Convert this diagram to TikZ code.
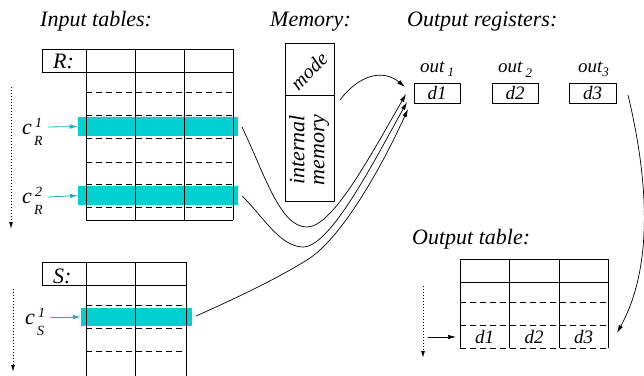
\documentclass[tikz,border=0pt]{standalone}
\usepackage{fontspec}
\setmainfont{Liberation Serif}
\usetikzlibrary{arrows.meta}
\definecolor{barcyan}{RGB}{0,208,208}
\definecolor{arrcyan}{RGB}{30,175,185}
\newcommand{\tfont}{\fontsize{22}{22}\selectfont\itshape}
\newcommand{\dfont}{\fontsize{19}{19}\selectfont\itshape}
\newcommand{\sfontx}{\fontsize{14}{14}\selectfont\itshape}
\begin{document}
\begin{tikzpicture}[x=1pt,y=-1pt,
  gridline/.style={line width=0.7pt, draw=black},
  dashline/.style={line width=0.7pt, dash pattern=on 6pt off 4pt},
  bar/.style={fill=barcyan, draw=none, inner sep=0pt},
  regbox/.style={draw, line width=0.7pt, minimum width=46pt, minimum height=20pt, inner sep=0pt, font=\dfont},
  title/.style={anchor=base west, inner sep=0pt, font=\tfont},
  cmain/.style={anchor=base west, inner sep=0pt, font=\tfont},
  cscript/.style={anchor=base west, inner sep=0pt, font=\sfontx},
  conn/.style={line width=0.7pt, -{Latex[length=8pt,width=4.5pt]}},
  cyanarrow/.style={line width=0.8pt, draw=arrcyan, -{Latex[length=8pt,width=4.5pt]}, arrcyan},
  dotarrow/.style={line width=1pt, draw=black!45, dotted, -{Latex[length=7pt,width=4pt]}, black}]
\useasboundingbox (0,0) rectangle (644,375);

% titles
\node[title] (tin) at (40,26) {Input tables:};
\node[title] (tmem) at (270,26) {Memory:};
\node[title] (treg) at (407,26) {Output registers:};
\node[title] (tout) at (412,244) {Output table:};

% ---------- table R ----------
\node[bar, minimum width=160pt, minimum height=19pt] (cr1) at (158,126.5) {};
\node[bar, minimum width=160pt, minimum height=19pt] (cr2) at (158,195.5) {};
\draw[gridline] (42,49) rectangle (86,72);
\node[anchor=base west, inner sep=0pt, font=\tfont] (rlab) at (53,68) {R:};
\draw[gridline] (86,49) -- (233,49) (86,72) -- (233,72) (86,220) -- (233,220);
\foreach \x in {86,135,184,233} \draw[gridline] (\x,49) -- (\x,220);
\foreach \y in {92,115,138,162,184,207} \draw[dashline] (86,\y) -- (233,\y);

% ---------- table S ----------
\node[bar, minimum width=111pt, minimum height=18pt] (cs1) at (136.5,317) {};
\draw[gridline] (42,262) rectangle (86,285);
\node[anchor=base west, inner sep=0pt, font=\tfont] (slab) at (53,283) {S:};
\draw[gridline] (86,262) -- (186,262) (86,285) -- (186,285);
\foreach \x in {86,135,186} \draw[gridline] (\x,262) -- (\x,376);
\foreach \y in {305,328,351} \draw[dashline] (86,\y) -- (186,\y);

% cursor labels and arrows
\node[cmain] (lr1c) at (22,134) {c};
\node[cscript] (lr1p) at (35,127) {1};
\node[cscript] (lr1b) at (34,145) {R};
\node[cmain] (lr2c) at (22,203) {c};
\node[cscript] (lr2p) at (35,196) {2};
\node[cscript] (lr2b) at (34,214) {R};
\node[cmain] (ls1c) at (25,324) {c};
\node[cscript] (ls1p) at (38,317) {1};
\node[cscript] (ls1b) at (37,335) {S};
\coordinate (ar1) at (48,127);
\coordinate (ar2) at (48,197);
\coordinate (as1) at (51,317);
\draw[cyanarrow] (ar1) -- (cr1.west);
\draw[cyanarrow] (ar2) -- (cr2.west);
\draw[cyanarrow] (as1) -- (cs1.west);

% dotted scan arrows
\coordinate (rt) at (11,87); \coordinate (rb) at (11,229);
\coordinate (st) at (13,289); \coordinate (sb) at (13,372);
\coordinate (ot) at (423,286); \coordinate (ob) at (423,358);
\draw[dotarrow] (rt) -- (rb);
\draw[dotarrow] (st) -- (sb);
\draw[dotarrow] (ot) -- (ob);

% ---------- memory ----------
\node[draw, line width=0.7pt, minimum width=49pt, minimum height=52pt, inner sep=0pt] (mode) at (309.5,69) {};
\node[draw, line width=0.7pt, minimum width=49pt, minimum height=106pt, inner sep=0pt] (mem) at (309.5,148) {};
\node[font=\fontsize{20}{20}\selectfont\itshape, rotate=45, inner sep=0pt] (modetxt) at (309,71) {mode};
\node[font=\tfont, rotate=90, inner sep=0pt, align=center] (memtxt) at (309,150) {internal\\[-2pt]memory};

% ---------- output registers ----------
\node[regbox] (d1) at (437,93) {d1};
\node[regbox] (d2) at (515,93) {d2};
\node[regbox, minimum width=47pt] (d3) at (592.5,93) {d3};
\node[anchor=base west, inner sep=0pt, font=\dfont] (o1) at (420,72) {out\,\raisebox{-4pt}{\fontsize{13}{13}\selectfont 1}};
\node[anchor=base west, inner sep=0pt, font=\dfont] (o2) at (498,72) {out\,\raisebox{-5pt}{\fontsize{13}{13}\selectfont 2}};
\node[anchor=base west, inner sep=0pt, font=\dfont] (o3) at (578,72) {out\raisebox{-4pt}{\fontsize{13}{13}\selectfont 3}};

% ---------- output table ----------
\draw[gridline] (460,259) -- (608,259) (460,282) -- (608,282);
\foreach \x in {460,509,559,608} \draw[gridline] (\x,259) -- (\x,348);
\foreach \y in {302,325,348} \draw[dashline] (460,\y) -- (608,\y);
\node[font=\dfont, inner sep=0pt] (od1) at (484.5,337) {d1};
\node[font=\dfont, inner sep=0pt] (od2) at (534,337) {d2};
\node[font=\dfont, inner sep=0pt] (od3) at (583.5,337) {d3};
\coordinate (oa) at (428,337);
\coordinate (ob2) at (456,337);
\draw[conn] (oa) -- (ob2);

% ---------- connectors ----------
\coordinate (m1) at (340,100);
\coordinate (e1) at (405,87);
\coordinate (s2) at (242,127);
\coordinate (b2) at (307,227);
\coordinate (e2) at (406,94);
\coordinate (s3) at (242,196);
\coordinate (b3) at (303,247);
\coordinate (e3) at (407,102);
\coordinate (s4) at (196,316);
\coordinate (b4) at (310,258);
\coordinate (e4) at (408,109);
\coordinate (s5) at (628,95);
\coordinate (e5) at (617,333);

\draw[conn] (m1) .. controls (358,76) and (382,68) .. (e1);
\draw[conn] (s2) .. controls (265,175) and (280,227) .. (b2) .. controls (332,227) and (368,160) .. (e2);
\draw[conn] (s3) .. controls (262,215) and (280,247) .. (b3) .. controls (330,247) and (372,165) .. (e3);
\draw[conn] (s4) .. controls (250,292) and (285,274) .. (b4) .. controls (345,234) and (385,160) .. (e4);
\draw[conn] (s5) .. controls (646,170) and (656,262) .. (e5);
\end{tikzpicture}
\end{document}
